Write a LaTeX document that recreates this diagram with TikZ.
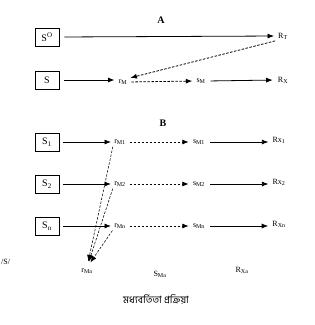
\documentclass[tikz,border=0pt]{standalone}
\usepackage{fontspec}
\setmainfont{Liberation Serif}
\newfontfamily\bangla[Script=Bengali]{Hind Siliguri}
\usetikzlibrary{arrows.meta}

\tikzset{
  sbox/.style={draw, line width=0.7pt, minimum width=24pt, minimum height=18pt,
    inner sep=0pt, font=\fontsize{10}{12}\selectfont},
  lbl/.style={inner sep=1pt, font=\fontsize{8}{9}\selectfont},
  solidarr/.style={-{Latex[length=6.5pt,width=5pt]}, line width=0.8pt},
  dasharr/.style={solidarr, dashed, dash pattern=on 2.5pt off 1.5pt},
  fanarr/.style={dasharr, line width=0.55pt}
}

\begin{document}
\begin{tikzpicture}[x=1pt, y=-1pt]
  \useasboundingbox (0,0) rectangle (315,325);

  % part A
  \node[font=\fontsize{10}{12}\selectfont\bfseries] (titleA) at (161,20) {A};
  \node[sbox] (so) at (47,37) {S\textsuperscript{O}};
  \node[lbl] (rt) at (283,36) {R\textsubscript{T}};
  \node[sbox] (s) at (47,80) {S};
  \node[lbl] (rm) at (123,82) {r\textsubscript{M}};
  \node[lbl] (sm) at (201,81) {s\textsubscript{M}};
  \node[lbl] (rx) at (283,80) {R\textsubscript{X}};
  \draw[solidarr, shorten <=5pt, shorten >=3pt] (so.east) -- (rt.west);
  \draw[solidarr, shorten <=5pt, shorten >=3pt] (s.east) -- (rm.west |- s.east);
  \draw[dasharr, shorten <=2pt, shorten >=2pt] (rt.south west) -- (rm.north east);
  \draw[dasharr, shorten <=3pt, shorten >=3pt] (rm.east) -- (sm.west);
  \draw[solidarr, shorten <=4pt, shorten >=4pt] (sm.east) -- (rx.west);

  % part B
  \node[font=\fontsize{10}{12}\selectfont\bfseries] (titleB) at (163,123) {B};
  \foreach \y/\k/\rxl in {%
    142/1/{Rx\textsubscript{1}},
    184/2/{Rx\textsubscript{2}},
    226/n/{R\textsubscript{Xn}}} {
    \node[sbox] (s\k) at (47,\y) {S\textsubscript{\k}};
    \node[lbl] (r\k) at (120,\y) {r\textsubscript{M\k}};
    \node[lbl] (sm\k) at (199,\y) {s\textsubscript{M\k}};
    \node[lbl] (rx\k) at (279,\y-2) {\rxl};
    \draw[solidarr, shorten <=4pt, shorten >=2pt] (s\k.east) -- (r\k.west);
    \draw[dasharr, shorten <=3pt, shorten >=3pt] (r\k.east) -- (sm\k.west);
    \draw[solidarr, shorten <=4pt, shorten >=3pt] (sm\k.east) -- (rx\k.west |- sm\k.east);
  }

  % bottom row
  \node[lbl] (rma) at (87,271) {r\textsubscript{Ma}};
  \node[lbl] (sma) at (160,274) {S\textsubscript{Ma}};
  \node[lbl] (rxa) at (242,270) {R\textsubscript{Xa}};
  \node[lbl, anchor=west] (sl) at (0,262) {/S/};
  \foreach \k in {1,2,n}
    \draw[fanarr, shorten <=1pt, shorten >=6pt] (r\k.south west) -- (rma.north);

  % caption
  \node[font=\fontsize{10}{12}\selectfont\bangla] (cap) at (156,300) {মধ্যবর্তিতা প্রক্রিয়া};
\end{tikzpicture}
\end{document}
